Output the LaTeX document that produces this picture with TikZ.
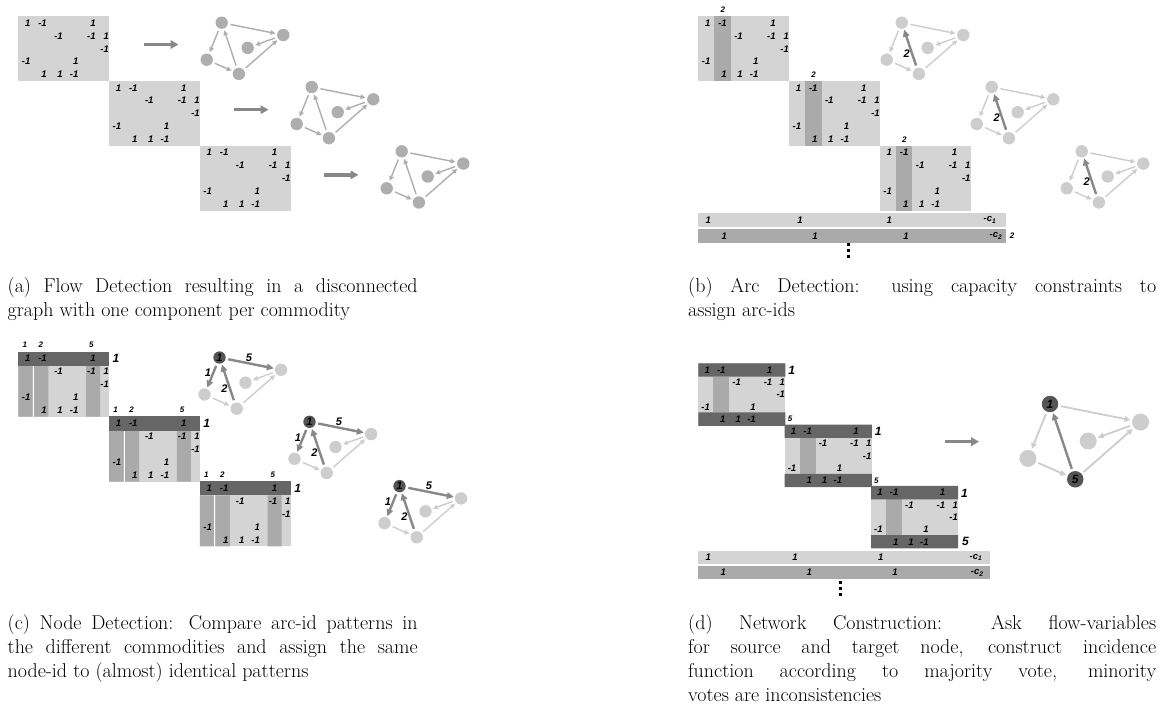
\documentclass[tikz,border=0pt]{standalone}
\usepackage{fontspec}
\setsansfont{Liberation Sans}
\usepackage{tikz}
\usetikzlibrary{arrows.meta, positioning}

\definecolor{matlight}{HTML}{D4D4D4}
\definecolor{matmid}{HTML}{AAAAAA}
\definecolor{matdark}{HTML}{666666}
\definecolor{nodegray}{HTML}{AEAEAE}
\definecolor{nodelight}{HTML}{CDCDCD}
\definecolor{nodedark}{HTML}{555555}
\definecolor{arcdark}{HTML}{888888}

\newcommand{\numfont}{\sffamily\bfseries\itshape\fontsize{9.5}{10}\selectfont}
\newcommand{\smallnum}{\sffamily\bfseries\itshape\fontsize{8}{9}\selectfont}
\newcommand{\bignum}{\sffamily\bfseries\itshape\fontsize{12}{13}\selectfont}
\newcommand{\hubfont}{\sffamily\bfseries\itshape\fontsize{11}{12}\selectfont}
\newcommand{\capfont}{\fontsize{20}{24}\selectfont}

\tikzset{>={Triangle[length=5pt,width=4.5pt]},
  entry/.style={anchor=east, inner sep=0pt, font=\numfont},
  collab/.style={inner sep=0pt, font=\smallnum},
  rowlab/.style={inner sep=0pt, font=\bignum},
  barnum/.style={inner sep=0pt, font=\numfont},
  gnode/.style={circle, fill=nodegray, minimum size=12.4pt, inner sep=0pt},
  lnode/.style={gnode, fill=nodelight},
  hub/.style={gnode, fill=nodedark, font=\hubfont},
  bnode/.style={lnode, minimum size=17pt},
  bhub/.style={hub, minimum size=16.5pt, font=\bignum},
  garc/.style={->, draw=nodegray, line width=1.4pt, shorten >=1.5pt, shorten <=2.5pt},
  larc/.style={garc, draw=nodelight},
  blarc/.style={larc, line width=1.8pt, >={Triangle[length=6pt,width=5.5pt]}},
  darc/.style={-{Triangle[length=7pt,width=6.5pt]}, draw=arcdark, line width=2.4pt, shorten >=1pt, shorten <=2.5pt},
  arclab/.style={inner sep=1pt, font=\hubfont},
  bigarrow/.style={-{Triangle[length=8pt,width=8.5pt]}, draw=arcdark, line width=3.4pt},
  caption/.style={anchor=north west, inner sep=0pt, align=justify, font=\capfont}}

% entries of one commodity block
\newcommand{\matentries}[1]{%
  \foreach \x/\c/\r/\v in {12.2/1/1/1, 28.6/2/1/-1, 77.5/5/1/1, 44.6/3/2/-1, 77.5/5/2/-1, 90.8/6/2/1,
      90.8/6/3/-1, 12.2/1/4/-1, 60.2/4/4/1, 28.6/2/5/1, 44.6/3/5/1, 60.2/4/5/-1}
    \node[entry] (#1-\c-\r) at (\x,{7+12.9*(\r-1)}) {\v};}

% one component: name, top node, scale, style, top style, top text, bottom style, bottom text
\newcommand{\flowgraph}[8]{%
  \begin{scope}[shift={#2}, scale=#3]
    \node[#5] (#1-a) at (0,0) {#6};
    \node[#4] (#1-b) at (61.6,12.3) {};
    \node[#4] (#1-c) at (26,25.2) {};
    \node[#4] (#1-d) at (-15,37) {};
    \node[#7] (#1-e) at (17.2,51.2) {#8};
  \end{scope}}

\begin{document}
\begin{tikzpicture}[x=1pt, y=-1pt]
\useasboundingbox (0,0) rectangle (1170,708);

% (a)
\foreach \k in {0,1,2} {
  \begin{scope}[shift={({18.3+90.8*\k},{16+64.8*\k})}]
    \fill[matlight] (0,0) rectangle (91,65.5);
    \matentries{ma\k}
  \end{scope}
  \coordinate (fs\k) at ({143.5+90*\k},{44.5+65.2*\k});
  \coordinate (fe\k) at ({178.5+90*\k},{44.5+65.2*\k});
  \draw[bigarrow] (fs\k) -- (fe\k);
  \flowgraph{ga\k}{({221.7+90*\k},{22.7+64.3*\k})}{1}{gnode}{gnode}{}{gnode}{}
  \draw[garc] (ga\k-a) -- (ga\k-b);
  \draw[garc] (ga\k-b) -- (ga\k-c);
  \draw[garc] (ga\k-e) -- (ga\k-b);
  \draw[garc] (ga\k-e) -- (ga\k-a);
  \draw[garc] (ga\k-a) -- (ga\k-d);
  \draw[garc] (ga\k-d) -- (ga\k-e);
}
\node[caption, text width=410pt] (capa) at (7.5,277)
  {(a) Flow Detection resulting in a disconnected\linebreak graph with one component per commodity};

% (b)
\foreach \k in {0,1,2} {
  \begin{scope}[shift={({698.3+90.8*\k},{16+64.8*\k})}]
    \fill[matlight] (0,0) rectangle (91,65.5);
    \fill[matmid] (16,0) rectangle (32.4,65.5);
    \node[collab] (mb\k-id) at (24.5,-6) {2};
    \matentries{mb\k}
  \end{scope}
  \flowgraph{gb\k}{({901.7+90*\k},{22.7+64.3*\k})}{1}{lnode}{lnode}{}{lnode}{}
  \draw[larc] (gb\k-a) -- (gb\k-b);
  \draw[larc] (gb\k-b) -- (gb\k-c);
  \draw[larc] (gb\k-e) -- (gb\k-b);
  \draw[larc] (gb\k-a) -- (gb\k-d);
  \draw[larc] (gb\k-d) -- (gb\k-e);
  \draw[darc] (gb\k-e) -- node[arclab, left, pos=0.37] (gb\k-l) {2} (gb\k-a);
}
\fill[matlight] (698.3,213.3) rectangle (1006,226.7);
\fill[matmid] (698.3,229.3) rectangle (1006,242.7);
\foreach \x [count=\i] in {708.3,800,889.3}
  \node[barnum] (b1-\i) at (\x,220) {1};
\foreach \x [count=\i] in {724.3,815,906}
  \node[barnum] (b2-\i) at (\x,236) {1};
\node[barnum] (b1-c) at (990,220) {-c\textsubscript{1}};
\node[barnum] (b2-c) at (996,236) {-c\textsubscript{2}};
\node[collab] (b2-id) at (1012,236) {2};
\foreach \y in {245,250.8,256.6}
  \fill (846.8,{\y-1.5}) rectangle +(3,3);
\node[caption, text width=468pt] (capb) at (688,277)
  {(b) Arc Detection: using capacity constraints to\linebreak assign arc-ids};

% (c)
\foreach \k in {0,1,2} {
  \begin{scope}[shift={({18.3+90.8*\k},{351.7+64.8*\k})}]
    \fill[matlight] (0,0) rectangle (91,65);
    \fill[matmid] (0,14) rectangle (14.4,65) (15.4,14) rectangle (30,65) (67.7,14) rectangle (81.7,65);
    \fill[white] (14.4,14) rectangle (15.4,65);
    \fill[matdark] (0,0) rectangle (91,14);
    \node[collab] (mc\k-i1) at (6.5,-6.5) {1};
    \node[collab] (mc\k-i2) at (22.5,-6.5) {2};
    \node[collab] (mc\k-i5) at (73,-6.5) {5};
    \node[rowlab] (mc\k-n) at (97.7,7) {1};
    \matentries{mc\k}
  \end{scope}
  \flowgraph{gc\k}{({219.5+90*\k},{357.5+64.3*\k})}{1}{lnode}{hub}{1}{lnode}{}
  \draw[larc] (gc\k-b) -- (gc\k-c);
  \draw[larc] (gc\k-e) -- (gc\k-b);
  \draw[larc] (gc\k-d) -- (gc\k-e);
  \draw[darc] (gc\k-a) -- node[arclab, above, pos=0.47] (gc\k-l5) {5} (gc\k-b);
  \draw[darc] (gc\k-a) -- node[arclab, left, pos=0.38] (gc\k-l1) {1} (gc\k-d);
  \draw[darc] (gc\k-e) -- node[arclab, left, pos=0.37] (gc\k-l2) {2} (gc\k-a);
}
\node[caption, text width=410pt] (capc) at (7.5,614)
  {(c) Node Detection: Compare arc-id patterns in\linebreak the different commodities and assign the same\linebreak node-id to (almost) identical patterns};

% (d)
\begin{scope}[shift={(698.3,363.3)}, xscale=0.957, yscale=0.955]
  \foreach \k in {0,1,2} {
    \begin{scope}[shift={({90.3*\k},{64.2*\k})}]
      \fill[matlight] (0,0) rectangle (91,65.5);
      \fill[matmid] (15.6,14) rectangle (32.2,51.5);
      \fill[matdark] (0,0) rectangle (91,14) (0,51.5) rectangle (91,65.5);
      \node[rowlab] (md\k-n) at (97.6,7.5) {1};
      \matentries{md\k}
    \end{scope}
  }
  \node[collab] (md0-s) at (95.8,58.6) {5};
  \node[collab] (md1-s) at ({95.8+90.3},{58.6+64.2}) {5};
  \node[rowlab] (md2-s) at ({98.5+2*90.3},{57.6+2*64.2}) {5};
\end{scope}
\fill[matlight] (698.3,551) rectangle (990,564.3);
\fill[matmid] (698.3,566) rectangle (990,579.3);
\foreach \x [count=\i] in {708.3,795,880.7}
  \node[barnum] (d1-\i) at (\x,557.7) {1};
\foreach \x [count=\i] in {723.3,809.3,895}
  \node[barnum] (d2-\i) at (\x,572.7) {1};
\node[barnum] (d1-c) at (976,557.7) {-c\textsubscript{1}};
\node[barnum] (d2-c) at (977.3,572.7) {-c\textsubscript{2}};
\foreach \y in {582.5,588.3,594.1}
  \fill (838.5,{\y-1.5}) rectangle +(3,3);
\coordinate (ds) at (945,441.7);
\coordinate (de) at (979,441.7);
\draw[bigarrow] (ds) -- (de);
\flowgraph{gd}{(1050,404)}{1.47}{bnode}{bhub}{1}{bhub}{5}
\draw[blarc] (gd-a) -- (gd-b);
\draw[blarc] (gd-b) -- (gd-c);
\draw[blarc] (gd-e) -- (gd-b);
\draw[blarc] (gd-a) -- (gd-d);
\draw[blarc] (gd-d) -- (gd-e);
\draw[darc] (gd-e) -- (gd-a);
\node[caption, text width=468pt] (capd) at (688,614)
  {(d) Network Construction: Ask flow-variables\linebreak for source and target node, construct incidence\linebreak function according to majority vote, minority\linebreak votes are inconsistencies};
\end{tikzpicture}
\end{document}
